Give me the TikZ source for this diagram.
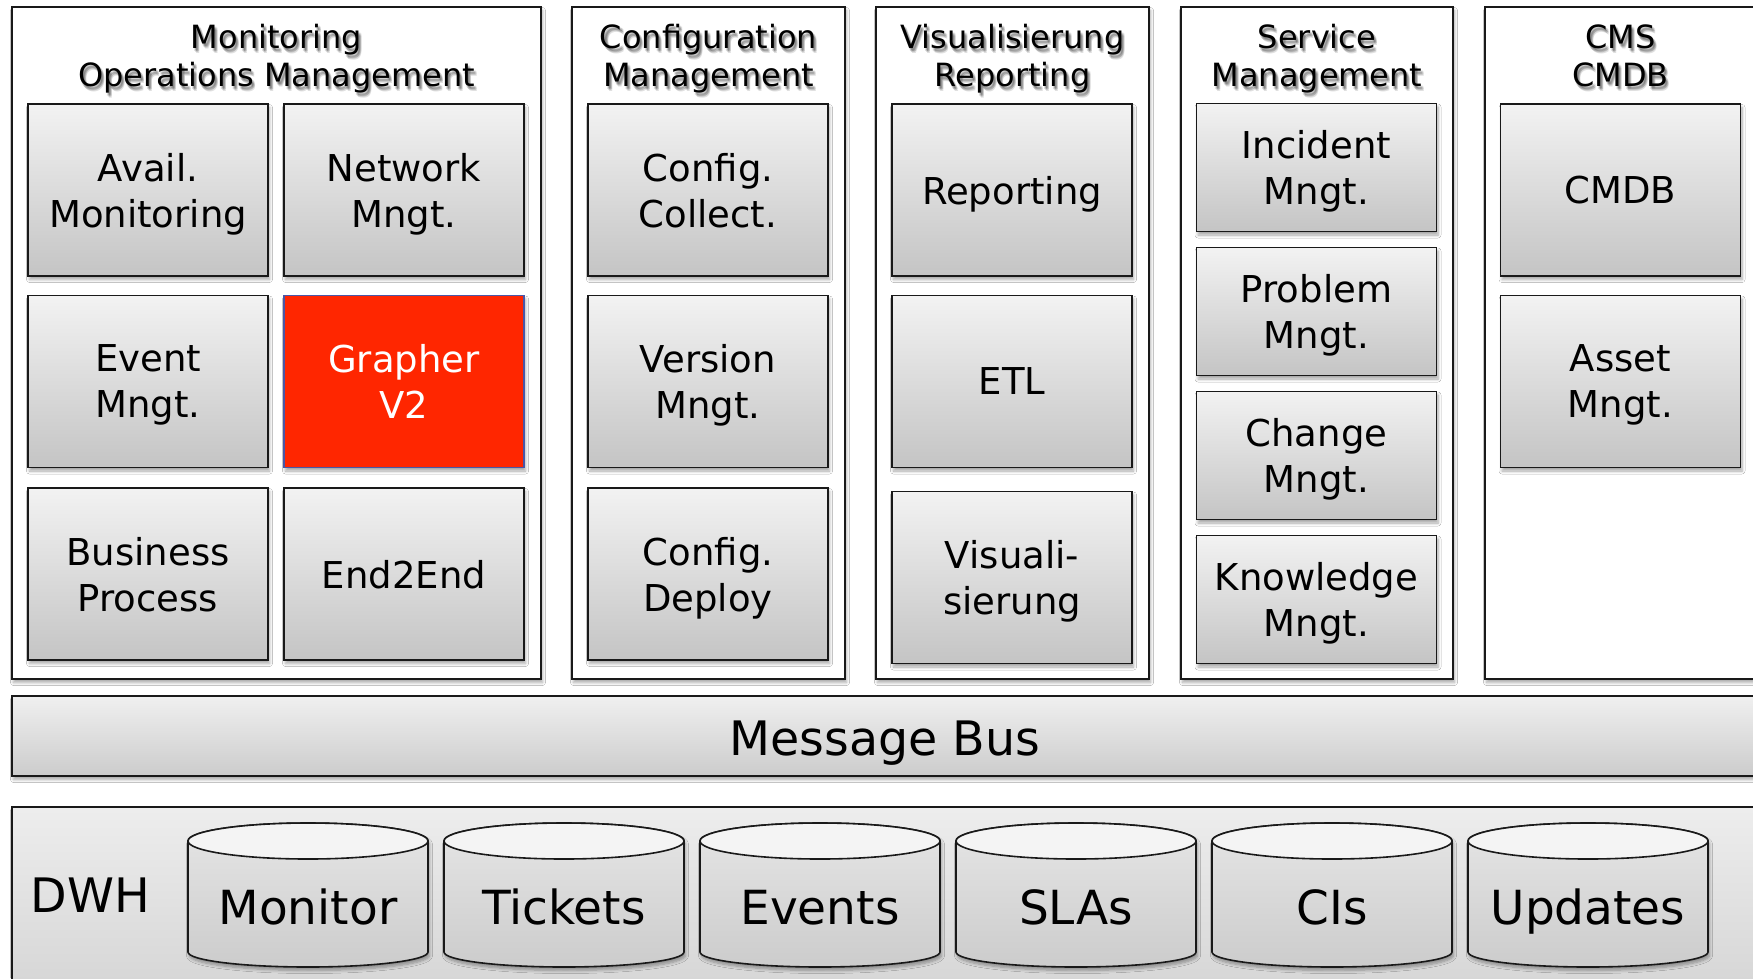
\documentclass[tikz,border=0pt]{standalone}
\usepackage{fontspec}
\setmainfont{DejaVu Sans}
\usetikzlibrary{shadows.blur}
\definecolor{grred}{HTML}{FF2600}
\definecolor{grblue}{HTML}{4A56A6}
\tikzset{
  sh/.style={blur shadow={shadow xshift=1.5pt, shadow yshift=-3.5pt, shadow blur radius=3pt, shadow blur steps=6, shadow opacity=35}},
  panel/.style={draw=black!90, line width=1.5pt, fill=white, sh, inner sep=0pt},
  modbase/.style={draw=black!90, line width=1.8pt, minimum width=240pt, minimum height=172pt, inner sep=0pt, align=center, text depth=0pt, font=\fontsize{37}{46}\selectfont, sh},
  mod/.style={modbase, top color=gray!10, bottom color=gray!46},
  hot/.style={modbase, fill=grred, draw=grblue, line width=1.2pt, text=white},
  ttl/.style={anchor=base, align=center, font=\fontsize{32}{38}\selectfont, inner sep=0pt},
  bar/.style={draw=black!90, line width=1.6pt, top color=gray!12, bottom color=gray!40, inner sep=0pt, sh},
  big/.style={font=\fontsize{47.5}{50}\selectfont, inner sep=0pt, anchor=base},
  cylbody/.style={draw=black!90, line width=1.6pt, top color=gray!20, bottom color=gray!40, sh},
  cyltop/.style={draw=black!90, line width=1.6pt, fill=gray!9},
  dbtext/.style={font=\fontsize{47}{50}\selectfont, inner sep=0pt, anchor=base}
}
% panel title with a soft drop shadow (anchor = baseline of the last line)
\newcommand\paneltitle[4]{%
  \foreach \dx/\dy [count=\k] in {1/3,3/3,2/2,2/4,3/5}{\node[ttl, opacity=0.12] (#1s\k) at (#2+\dx,#3+\dy) {#4};}
  \node[ttl] (#1) at (#2,#3) {#4};}
\begin{document}
\begin{tikzpicture}[x=1pt,y=-1pt]
\path[use as bounding box, clip] (0,0) rectangle (1753,978);
\fill[white] (0,0) rectangle (1753,978);
% panels
\node[panel, minimum width=529pt, minimum height=672pt] (pMon) at (276.5,343) {};
\node[panel, minimum width=273pt, minimum height=672pt] (pCfg) at (708.5,343) {};
\node[panel, minimum width=273pt, minimum height=672pt] (pVis) at (1012.5,343) {};
\node[panel, minimum width=272pt, minimum height=672pt] (pSvc) at (1317,343) {};
\node[panel, minimum width=275pt, minimum height=672pt] (pCms) at (1622.5,343) {};
% titles
\paneltitle{tMon}{276.5}{86.5}{Monitoring\\Operations Management}
\paneltitle{tCfg}{708.5}{86.5}{Configuration\\Management}
\paneltitle{tVis}{1012.5}{86.5}{Visualisierung\\Reporting}
\paneltitle{tSvc}{1317}{86.5}{Service\\Management}
\paneltitle{tCms}{1620.5}{86.5}{CMS\\CMDB}
% monitoring
\node[mod] (avail) at (148,190) {Avail.\\Monitoring};
\node[mod] (network) at (404,190) {Network\\Mngt.};
\node[mod] (event) at (148,381.5) {Event\\Mngt.};
\node[hot] (grapher) at (404,381.5) {Grapher\\V2};
\node[mod] (business) at (148,574) {Business\\Process};
\node[mod] (e2e) at (404,574) {End2End};
% configuration
\node[mod] (cfgcol) at (708,190) {Config.\\Collect.};
\node[mod] (version) at (708,381.5) {Version\\Mngt.};
\node[mod] (cfgdep) at (708,574) {Config.\\Deploy};
% visualisation
\node[mod] (reporting) at (1012,190) {Reporting};
\node[mod] (etl) at (1012,381.5) {ETL};
\node[mod] (visual) at (1012,577.5) {Visuali-\\sierung};
% service
\node[mod, minimum height=128pt] (incident) at (1316.5,167.5) {Incident\\Mngt.};
\node[mod, minimum height=128pt] (problem) at (1316.5,311.5) {Problem\\Mngt.};
\node[mod, minimum height=128pt] (change) at (1316.5,455.5) {Change\\Mngt.};
\node[mod, minimum height=128pt] (knowledge) at (1316.5,599.5) {Knowledge\\Mngt.};
% cms
\node[mod] (cmdb) at (1620.5,190) {CMDB};
\node[mod] (asset) at (1620.5,381.5) {Asset\\Mngt.};
% message bus
\node[bar, minimum width=1746pt, minimum height=80pt] (bus) at (885,736) {};
\node[big] (busLabel) at (885,755) {Message Bus};
% DWH
\node[bar, top color=gray!14, bottom color=gray!34, minimum width=1760pt, minimum height=200pt] (dwh) at (892,907) {};
\node[big] (dwhLabel) at (90.5,912) {DWH};
% cylinders
\foreach \cx/\lab/\nm in {308/Monitor/cMon, 564/Tickets/cTic, 820/Events/cEvt, 1076/SLAs/cSla, 1332/CIs/cCis, 1588/Updates/cUpd}{
  \path[cylbody] (\cx-120,841) -- (\cx-120,952) arc[start angle=180, end angle=360, x radius=120pt, y radius=15pt] -- (\cx+120,841) arc[start angle=0, end angle=180, x radius=120pt, y radius=18pt] -- cycle;
  \draw[cyltop] (\cx,841) ellipse[x radius=120pt, y radius=18pt];
  \node[dbtext] (\nm) at (\cx,924) {\lab};
}
\end{tikzpicture}
\end{document}
